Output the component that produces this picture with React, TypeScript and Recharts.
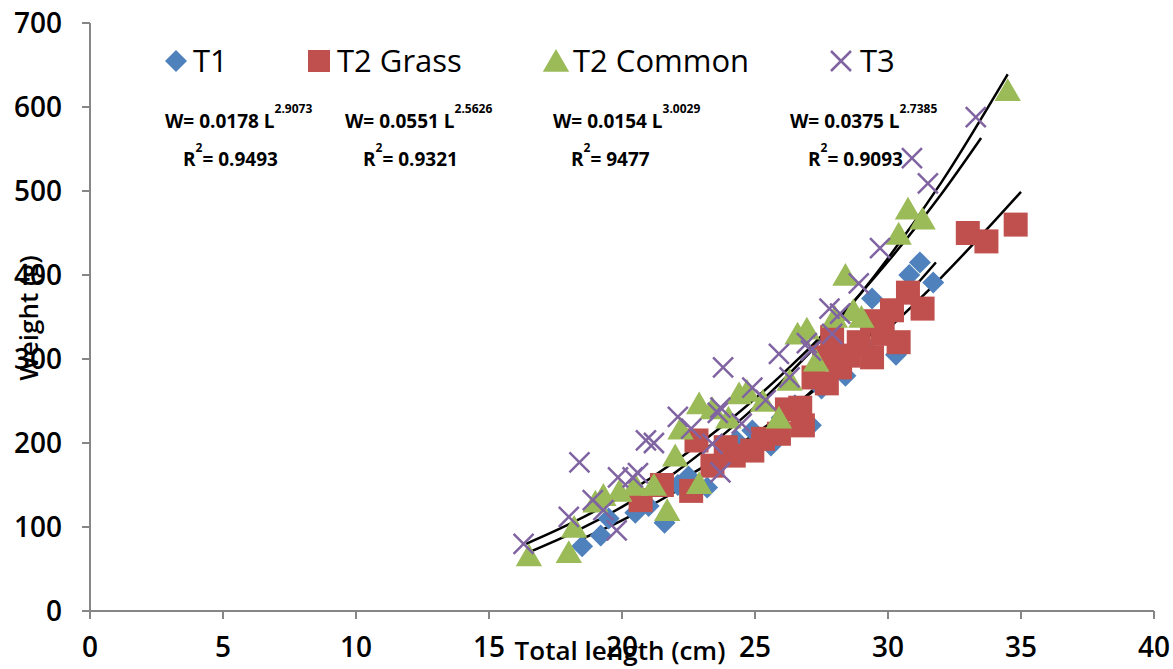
import React from 'react';
import { ComposedChart, Scatter, Line, XAxis, YAxis } from 'recharts';

// [total length (cm), weight (g)]
const t1Points: [number, number][] = [
  [18.5, 77], [19.2, 90], [19.5, 110], [20.5, 117], [21.0, 125], [21.6, 105],
  [22.1, 150], [22.5, 160], [23.2, 147], [23.8, 180], [24.3, 203], [24.9, 215],
  [25.6, 197], [26.0, 230], [26.5, 245], [27.1, 221], [27.5, 265], [28.0, 300],
  [28.4, 280], [29.1, 318], [29.4, 372], [30.3, 305], [30.8, 400], [31.2, 415],
  [31.7, 391],
];

const t2GrassPoints: [number, number][] = [
  [20.7, 132], [21.5, 150], [22.6, 143], [22.8, 203], [23.4, 173], [23.9, 195],
  [24.2, 185], [24.9, 191], [25.3, 205], [25.9, 211], [26.2, 240], [26.8, 221],
  [26.7, 242], [27.2, 278], [27.6, 302], [27.7, 271], [27.9, 326], [28.2, 290],
  [28.5, 304], [28.9, 320], [29.4, 302], [29.4, 345], [29.8, 330], [30.15, 358],
  [30.4, 320], [30.75, 379], [31.3, 360], [33.0, 450], [33.7, 440], [34.8, 460],
];

const t2CommonPoints: [number, number][] = [
  [16.5, 66], [18.0, 70], [18.2, 100], [19.0, 130], [19.3, 138], [19.9, 143],
  [20.5, 150], [21.2, 150], [21.7, 120], [22.0, 185], [22.2, 217], [22.9, 152],
  [22.9, 247], [23.4, 241], [24.0, 230], [24.4, 259], [24.7, 262], [25.3, 250],
  [25.9, 230], [26.3, 275], [26.6, 330], [26.95, 336], [27.3, 298], [28.0, 350],
  [28.4, 400], [28.7, 358], [29.0, 350], [30.4, 449], [30.75, 479], [31.3, 467],
  [34.5, 620],
];

const t3Points: [number, number][] = [
  [16.3, 80], [18.0, 112], [18.4, 177], [18.9, 132], [19.3, 120], [19.8, 96],
  [19.85, 159], [20.4, 159], [20.6, 164], [20.9, 203], [21.2, 200], [22.1, 231],
  [22.6, 217], [23.4, 199], [23.6, 236], [23.7, 165], [23.7, 242], [23.8, 290],
  [24.5, 223], [24.9, 266], [25.4, 251], [25.9, 306], [26.3, 278], [26.95, 319],
  [27.1, 310], [27.8, 360], [27.9, 330], [28.2, 354], [28.9, 390], [29.7, 432],
  [30.9, 539], [31.5, 509], [33.3, 588],
];

// power trend lines
const t1Trend: [number, number][] = [
  [18.5, 86], [20, 108], [22, 142], [24, 183], [26, 231], [28, 287], [30, 351], [31.8, 415],
];
const t2GrassTrend: [number, number][] = [
  [20.7, 130], [22, 152], [24, 190], [26, 233], [28, 282], [30, 336], [32, 397], [35, 499],
];
const t2CommonTrend: [number, number][] = [
  [16.5, 70], [18, 91], [20, 124], [22, 165], [24, 215], [26, 273], [28, 341], [30, 420], [32, 510], [34.5, 639],
];
const t3Trend: [number, number][] = [
  [16.4, 80], [18, 103], [20, 137], [22, 178], [24, 226], [26, 281], [28, 344], [30, 416], [32, 496], [33.5, 563],
];

const xTicks = [0, 5, 10, 15, 20, 25, 30, 35, 40];
const yTicks = [0, 100, 200, 300, 400, 500, 600, 700];

const BLUE = '#4F81BD';
const RED = '#C0504D';
const GREEN = '#9BBB59';
const PURPLE = '#8064A2';
const FONT = '"Open Sans", sans-serif';

const toXY = (pts: [number, number][]) => pts.map(([x, y]) => ({ x, y }));

const diamond = (cx: number, cy: number, r: number) =>
  `M${cx},${cy - r}L${cx + r},${cy}L${cx},${cy + r}L${cx - r},${cy}Z`;
const triangle = (cx: number, cy: number, r: number) =>
  `M${cx},${cy - r}L${cx + r * 1.1},${cy + r * 0.9}L${cx - r * 1.1},${cy + r * 0.9}Z`;
const cross = (cx: number, cy: number, r: number) =>
  `M${cx - r},${cy - r}L${cx + r},${cy + r}M${cx + r},${cy - r}L${cx - r},${cy + r}`;

const DiamondShape = (p: any) => <path d={diamond(p.cx, p.cy, 11)} fill={BLUE} />;
const SquareShape = (p: any) => <rect x={p.cx - 12} y={p.cy - 12} width={24} height={24} fill={RED} />;
const TriangleShape = (p: any) => <path d={triangle(p.cx, p.cy, 12)} fill={GREEN} />;
const CrossShape = (p: any) => <path d={cross(p.cx, p.cy, 10)} stroke={PURPLE} strokeWidth={2.5} fill="none" />;

const Equation = ({ x, y, a, b, r2 }: { x: number; y: number; a: string; b: string; r2: string }) => (
  <g fontFamily={FONT} fontWeight={700} fill="#000">
    <text x={x} y={y} fontSize={19}>
      {`W= ${a} L`}
      <tspan fontSize={12} dy={-15}>{b}</tspan>
    </text>
    <text x={x + 18} y={y + 38} fontSize={19}>
      R<tspan fontSize={12} dy={-14}>2</tspan>
      <tspan dy={14}>{`= ${r2}`}</tspan>
    </text>
  </g>
);

const tickStyle = { fill: '#000', fontSize: 28, fontFamily: FONT, fontWeight: 600 };

const App: React.FC = () => (
  <div style={{ position: 'absolute', left: 0, top: 0, width: 1173, height: 669, background: '#fff' }}>
    <ComposedChart width={1173} height={669} margin={{ top: 23, right: 19, bottom: 0, left: 0 }}>
      <XAxis
        type="number"
        dataKey="x"
        domain={[0, 40]}
        ticks={xTicks}
        height={58}
        tickSize={8}
        tickMargin={18}
        stroke="#868686"
        strokeWidth={2}
        tick={tickStyle}
      />
      <YAxis
        type="number"
        dataKey="y"
        domain={[0, 700]}
        ticks={yTicks}
        width={90}
        tickSize={8}
        tickMargin={20}
        stroke="#868686"
        strokeWidth={2}
        tick={tickStyle}
      />
      <Scatter name="T1" data={toXY(t1Points)} shape={DiamondShape} isAnimationActive={false} />
      <Scatter name="T2 Grass" data={toXY(t2GrassPoints)} shape={SquareShape} isAnimationActive={false} />
      <Scatter name="T2 Common" data={toXY(t2CommonPoints)} shape={TriangleShape} isAnimationActive={false} />
      <Scatter name="T3" data={toXY(t3Points)} shape={CrossShape} isAnimationActive={false} />
      <Line data={toXY(t1Trend)} dataKey="y" type="monotone" stroke="#000" strokeWidth={2.5} dot={false} isAnimationActive={false} />
      <Line data={toXY(t2GrassTrend)} dataKey="y" type="monotone" stroke="#000" strokeWidth={2.5} dot={false} isAnimationActive={false} />
      <Line data={toXY(t2CommonTrend)} dataKey="y" type="monotone" stroke="#000" strokeWidth={2.5} dot={false} isAnimationActive={false} />
      <Line data={toXY(t3Trend)} dataKey="y" type="monotone" stroke="#000" strokeWidth={2.5} dot={false} isAnimationActive={false} />
    </ComposedChart>
    <svg width={1173} height={669} style={{ position: 'absolute', left: 0, top: 0, pointerEvents: 'none' }}>
      <g fontFamily={FONT} fontSize={31} fill="#000">
        <path d={diamond(176, 61, 11)} fill={BLUE} />
        <text x={193} y={72}>T1</text>
        <rect x={308} y={50} width={22} height={22} fill={RED} />
        <text x={337} y={72}>T2 Grass</text>
        <path d={triangle(556, 61, 12)} fill={GREEN} />
        <text x={573} y={72}>T2 Common</text>
        <path d={cross(841, 61, 10)} stroke={PURPLE} strokeWidth={2.5} fill="none" />
        <text x={860} y={72}>T3</text>
      </g>
      <Equation x={165} y={128} a="0.0178" b="2.9073" r2="0.9493" />
      <Equation x={345} y={128} a="0.0551" b="2.5626" r2="0.9321" />
      <Equation x={553} y={128} a="0.0154" b="3.0029" r2="9477" />
      <Equation x={790} y={128} a="0.0375" b="2.7385" r2="0.9093" />
      <text x={620} y={660} textAnchor="middle" fontFamily={FONT} fontSize={26} fontWeight={600} fill="#000">
        Total length (cm)
      </text>
      <text
        x={0}
        y={0}
        transform="translate(38,318) rotate(-90)"
        textAnchor="middle"
        fontFamily={FONT}
        fontSize={26}
        fontWeight={600}
        fill="#000"
      >
        Weight (g)
      </text>
    </svg>
  </div>
);

export default App;
